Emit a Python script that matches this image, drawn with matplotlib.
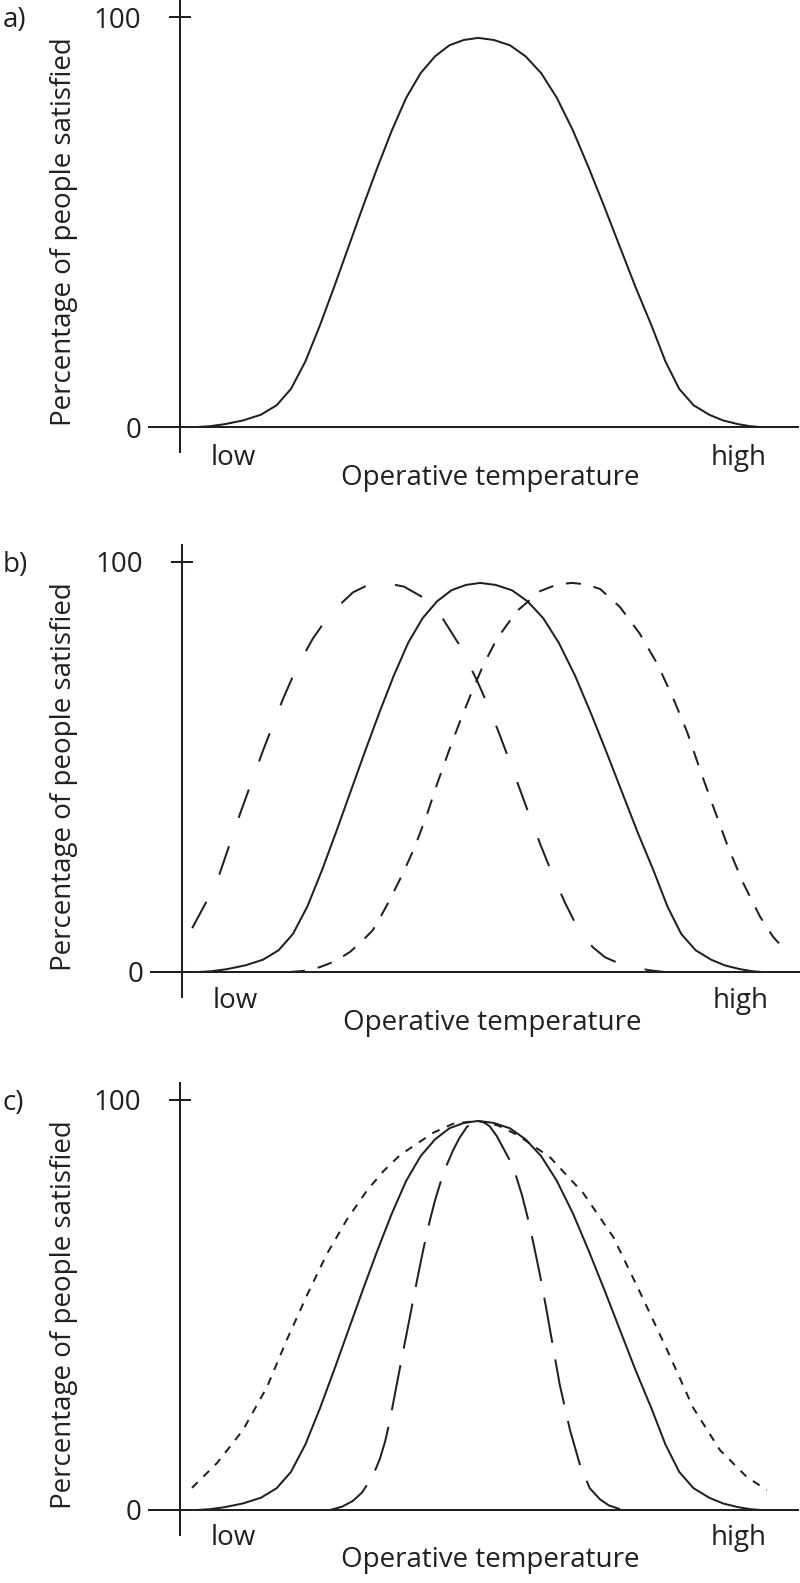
import matplotlib
matplotlib.use('Agg')
import matplotlib.pyplot as plt

plt.rcParams['font.family'] = ['Open Sans', 'DejaVu Sans']
plt.rcParams['lines.scale_dashes'] = False

W, H = 800, 1583
ink = '#231f20'

# reference comfort curve (drawn in every panel)
solid_t = [2.8, 5.0, 7.5, 10.5, 13.5, 16.1, 18.5, 20.9, 23.3, 25.7, 28.1, 30.5, 32.9,
           35.3, 37.7, 40.1, 42.5, 44.9, 47.3, 49.7, 52.3, 55.0, 57.6, 60.2, 62.8, 65.5,
           68.1, 70.7, 73.3, 75.9, 78.6, 80.9, 83.2, 85.6, 88.2, 90.5, 93.0, 95.0, 96.7]
solid_pct = [0.0, 0.2, 0.7, 1.6, 3.0, 5.3, 9.3, 16.0, 24.7, 34.2, 44.0, 53.8, 63.3,
             72.3, 80.3, 86.3, 90.4, 93.1, 94.4, 94.9, 94.4, 93.1, 90.4, 86.3, 80.3, 72.3,
             63.3, 53.8, 44.0, 34.2, 24.7, 16.0, 9.3, 5.3, 3.0, 1.6, 0.7, 0.2, 0.0]

# b) comfort curve moved to cooler / warmer temperatures
cool_t = [1.7, 4.2, 6.3, 9.7, 13.5, 16.8, 19.2, 21.8, 24.7, 28.5, 31.0, 33.5, 37.0,
          40.0, 42.0, 43.5, 46.3, 49.2, 51.0, 52.7, 54.3, 56.3, 58.0, 59.7, 61.8, 63.8,
          65.3, 66.7, 68.5, 70.5, 73.0, 75.8, 78.0, 80.5]
cool_pct = [10.7, 17.5, 24.1, 38.7, 54.0, 66.5, 74.5, 81.3, 87.4, 92.6, 94.4, 95.0, 94.0,
            91.5, 88.5, 86.1, 79.6, 71.0, 65.0, 58.8, 52.6, 44.6, 37.8, 31.2, 23.6, 17.0,
            12.6, 9.2, 6.0, 3.6, 2.0, 1.0, 0.4, 0.0]

warm_t = [18.0, 20.5, 23.0, 25.5, 28.0, 30.0, 31.8, 33.3, 34.7, 36.8, 38.8, 40.8, 42.5,
          44.5, 46.3, 48.3, 50.2, 52.5, 55.8, 59.7, 62.5, 65.0, 67.5, 69.7, 73.0, 76.3,
          79.2, 81.8, 84.2, 86.3, 88.5, 91.0, 93.5, 96.3, 98.5, 100.5]
warm_pct = [0.0, 0.3, 1.2, 2.6, 4.9, 7.5, 10.2, 14.0, 17.8, 24.0, 30.5, 38.3, 45.8,
            54.0, 61.0, 68.3, 74.8, 81.3, 88.0, 92.9, 94.5, 94.9, 94.5, 93.4, 89.0, 82.5,
            75.2, 67.0, 58.5, 49.5, 40.5, 30.5, 21.8, 13.6, 8.6, 5.4]

# c) wider and narrower comfort curves
wide_t = [2.0, 6.2, 10.5, 14.5, 17.8, 21.2, 24.5, 27.8, 31.2, 34.0, 36.7, 42.2, 45.5,
          49.5, 53.0, 56.2, 61.7, 67.2, 72.2, 76.7, 81.2, 85.5, 90.0, 94.5, 97.8]
wide_pct = [5.4, 11.5, 19.5, 30.0, 41.5, 52.5, 62.5, 70.8, 78.0, 82.8, 86.6, 92.0, 94.2,
            94.9, 93.8, 91.5, 86.0, 77.3, 66.6, 53.0, 39.0, 25.0, 14.6, 8.0, 4.9]

narrow_t = [25.0, 27.0, 28.8, 30.3, 31.5, 32.5, 33.3, 34.2, 35.0, 36.7, 38.3, 39.5, 40.5,
            41.5, 42.5, 43.5, 44.5, 45.5, 46.6, 47.8, 48.8, 49.7, 50.6, 51.6, 52.8, 53.9,
            55.0, 56.0, 57.0, 58.0, 59.0, 60.0, 61.0, 62.0, 63.3, 65.0, 66.7, 68.3, 70.0,
            71.5, 73.8]
narrow_pct = [0.0, 0.8, 2.2, 4.2, 6.8, 9.6, 12.4, 16.8, 22.0, 35.0, 47.0, 56.0, 63.2,
              69.8, 75.5, 80.3, 84.3, 87.7, 90.8, 93.4, 94.6, 94.9, 94.6, 93.6, 91.2, 88.2,
              85.2, 81.5, 76.8, 71.0, 64.4, 57.3, 49.5, 41.2, 30.5, 19.5, 10.8, 5.3, 2.6,
              1.1, 0.0]

y_ticks = [0, 100]
y_ticklabels = ['0', '100']
panel_labels = ['a)', 'b)', 'c)']

# pixel layout of each panel: y-axis x, baseline y, label offsets
axis_x = [180, 182, 180]
base_y = [427, 972, 1510]
low_dy = [38, 36, 35]
title_dy = [58, 58, 57]

fs = 20
lw = 1.44

fig = plt.figure(figsize=(8, 15.83), dpi=100)


def ftext(x, y, s, **kw):
    fig.text(x / W, 1 - y / H, s, fontsize=fs, color=ink, **kw)


axes = []
for i in range(3):
    ax0 = axis_x[i]
    by = base_y[i]
    x0, x1 = ax0 - 31, min(ax0 + 618, W)
    y0, y1 = by - 427, by + 25
    ax = fig.add_axes([x0 / W, 1 - y1 / H, (x1 - x0) / W, (y1 - y0) / H])
    ax.set_xlim((x0 - ax0) / 6, (x1 - ax0) / 6)
    ax.set_ylim(-25 / 4.1, 427 / 4.1)
    ax.patch.set_visible(False)
    for s in ['top', 'right']:
        ax.spines[s].set_visible(False)
    ax.spines['left'].set_position(('data', 0))
    ax.spines['bottom'].set_position(('data', 0))
    for s in ['left', 'bottom']:
        ax.spines[s].set_color(ink)
        ax.spines[s].set_linewidth(lw)
    ax.set_xticks([])
    ax.set_yticks(y_ticks)
    ax.set_yticklabels(y_ticklabels)
    ax.tick_params(axis='y', direction='inout', length=15.8, width=lw, color=ink,
                   pad=20, labelsize=fs, labelcolor=ink)
    ax.plot(solid_t, solid_pct, color=ink, lw=lw, solid_joinstyle='round')
    axes.append(ax)

    ftext(3, by - 400, panel_labels[i], ha='left', va='baseline')
    ftext(71, by - 1, 'Percentage of people satisfied', rotation=90,
          rotation_mode='anchor', ha='left', va='baseline')
    ftext(ax0 + 31, by + low_dy[i], 'low', ha='left', va='baseline')
    ftext(ax0 + 587, by + low_dy[i], 'high', ha='right', va='baseline')
    ftext(ax0 + 310, by + title_dy[i], 'Operative temperature', ha='center', va='baseline')

axes[1].plot(cool_t, cool_pct, color=ink, lw=lw, dashes=(21.6, 21.6), dash_capstyle='butt')
axes[1].plot(warm_t, warm_pct, color=ink, lw=lw, dashes=(10.8, 9.4), dash_capstyle='butt')
axes[2].plot(wide_t, wide_pct, color=ink, lw=lw, dashes=(5.8, 5.8), dash_capstyle='butt')
axes[2].plot(narrow_t, narrow_pct, color=ink, lw=lw, dashes=(33, 12.2), dash_capstyle='butt')

fig.savefig('out.png', dpi=100)
